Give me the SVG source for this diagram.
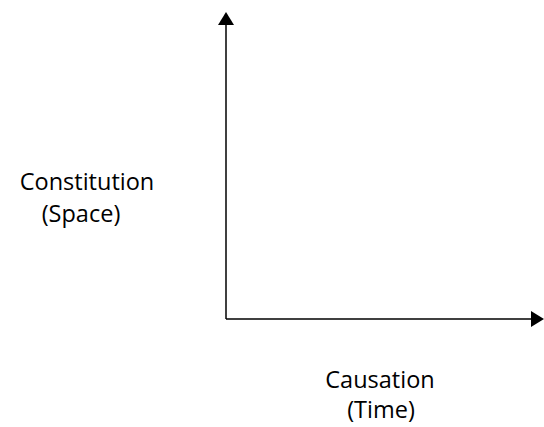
<svg xmlns="http://www.w3.org/2000/svg" width="544" height="427" viewBox="0 0 544 427">
<style>
  .lbl { font-family: "Open Sans", "Liberation Sans", sans-serif; font-size: 23.5px; fill: #000; text-anchor: middle; }
  .axis { stroke: #000; stroke-width: 1.5; fill: none; }
</style>
<defs>
  <marker id="arr" viewBox="0 0 13 16" refX="0" refY="8" markerWidth="13" markerHeight="16" markerUnits="userSpaceOnUse" orient="auto">
    <path d="M0,0 L13,8 L0,16 Z" fill="#000"/>
  </marker>
</defs>
<rect width="544" height="427" fill="#fff"/>
<g id="connectors">
  <line class="axis" x1="226" y1="319" x2="226" y2="25" marker-end="url(#arr)"/>
  <line class="axis" x1="226" y1="319" x2="531" y2="319" marker-end="url(#arr)"/>
</g>
<g id="constitution">
  <text class="lbl" x="87" y="190">Constitution</text>
  <text class="lbl" x="81" y="222">(Space)</text>
</g>
<g id="causation">
  <text class="lbl" x="380" y="388">Causation</text>
  <text class="lbl" x="381" y="418">(Time)</text>
</g>
</svg>
